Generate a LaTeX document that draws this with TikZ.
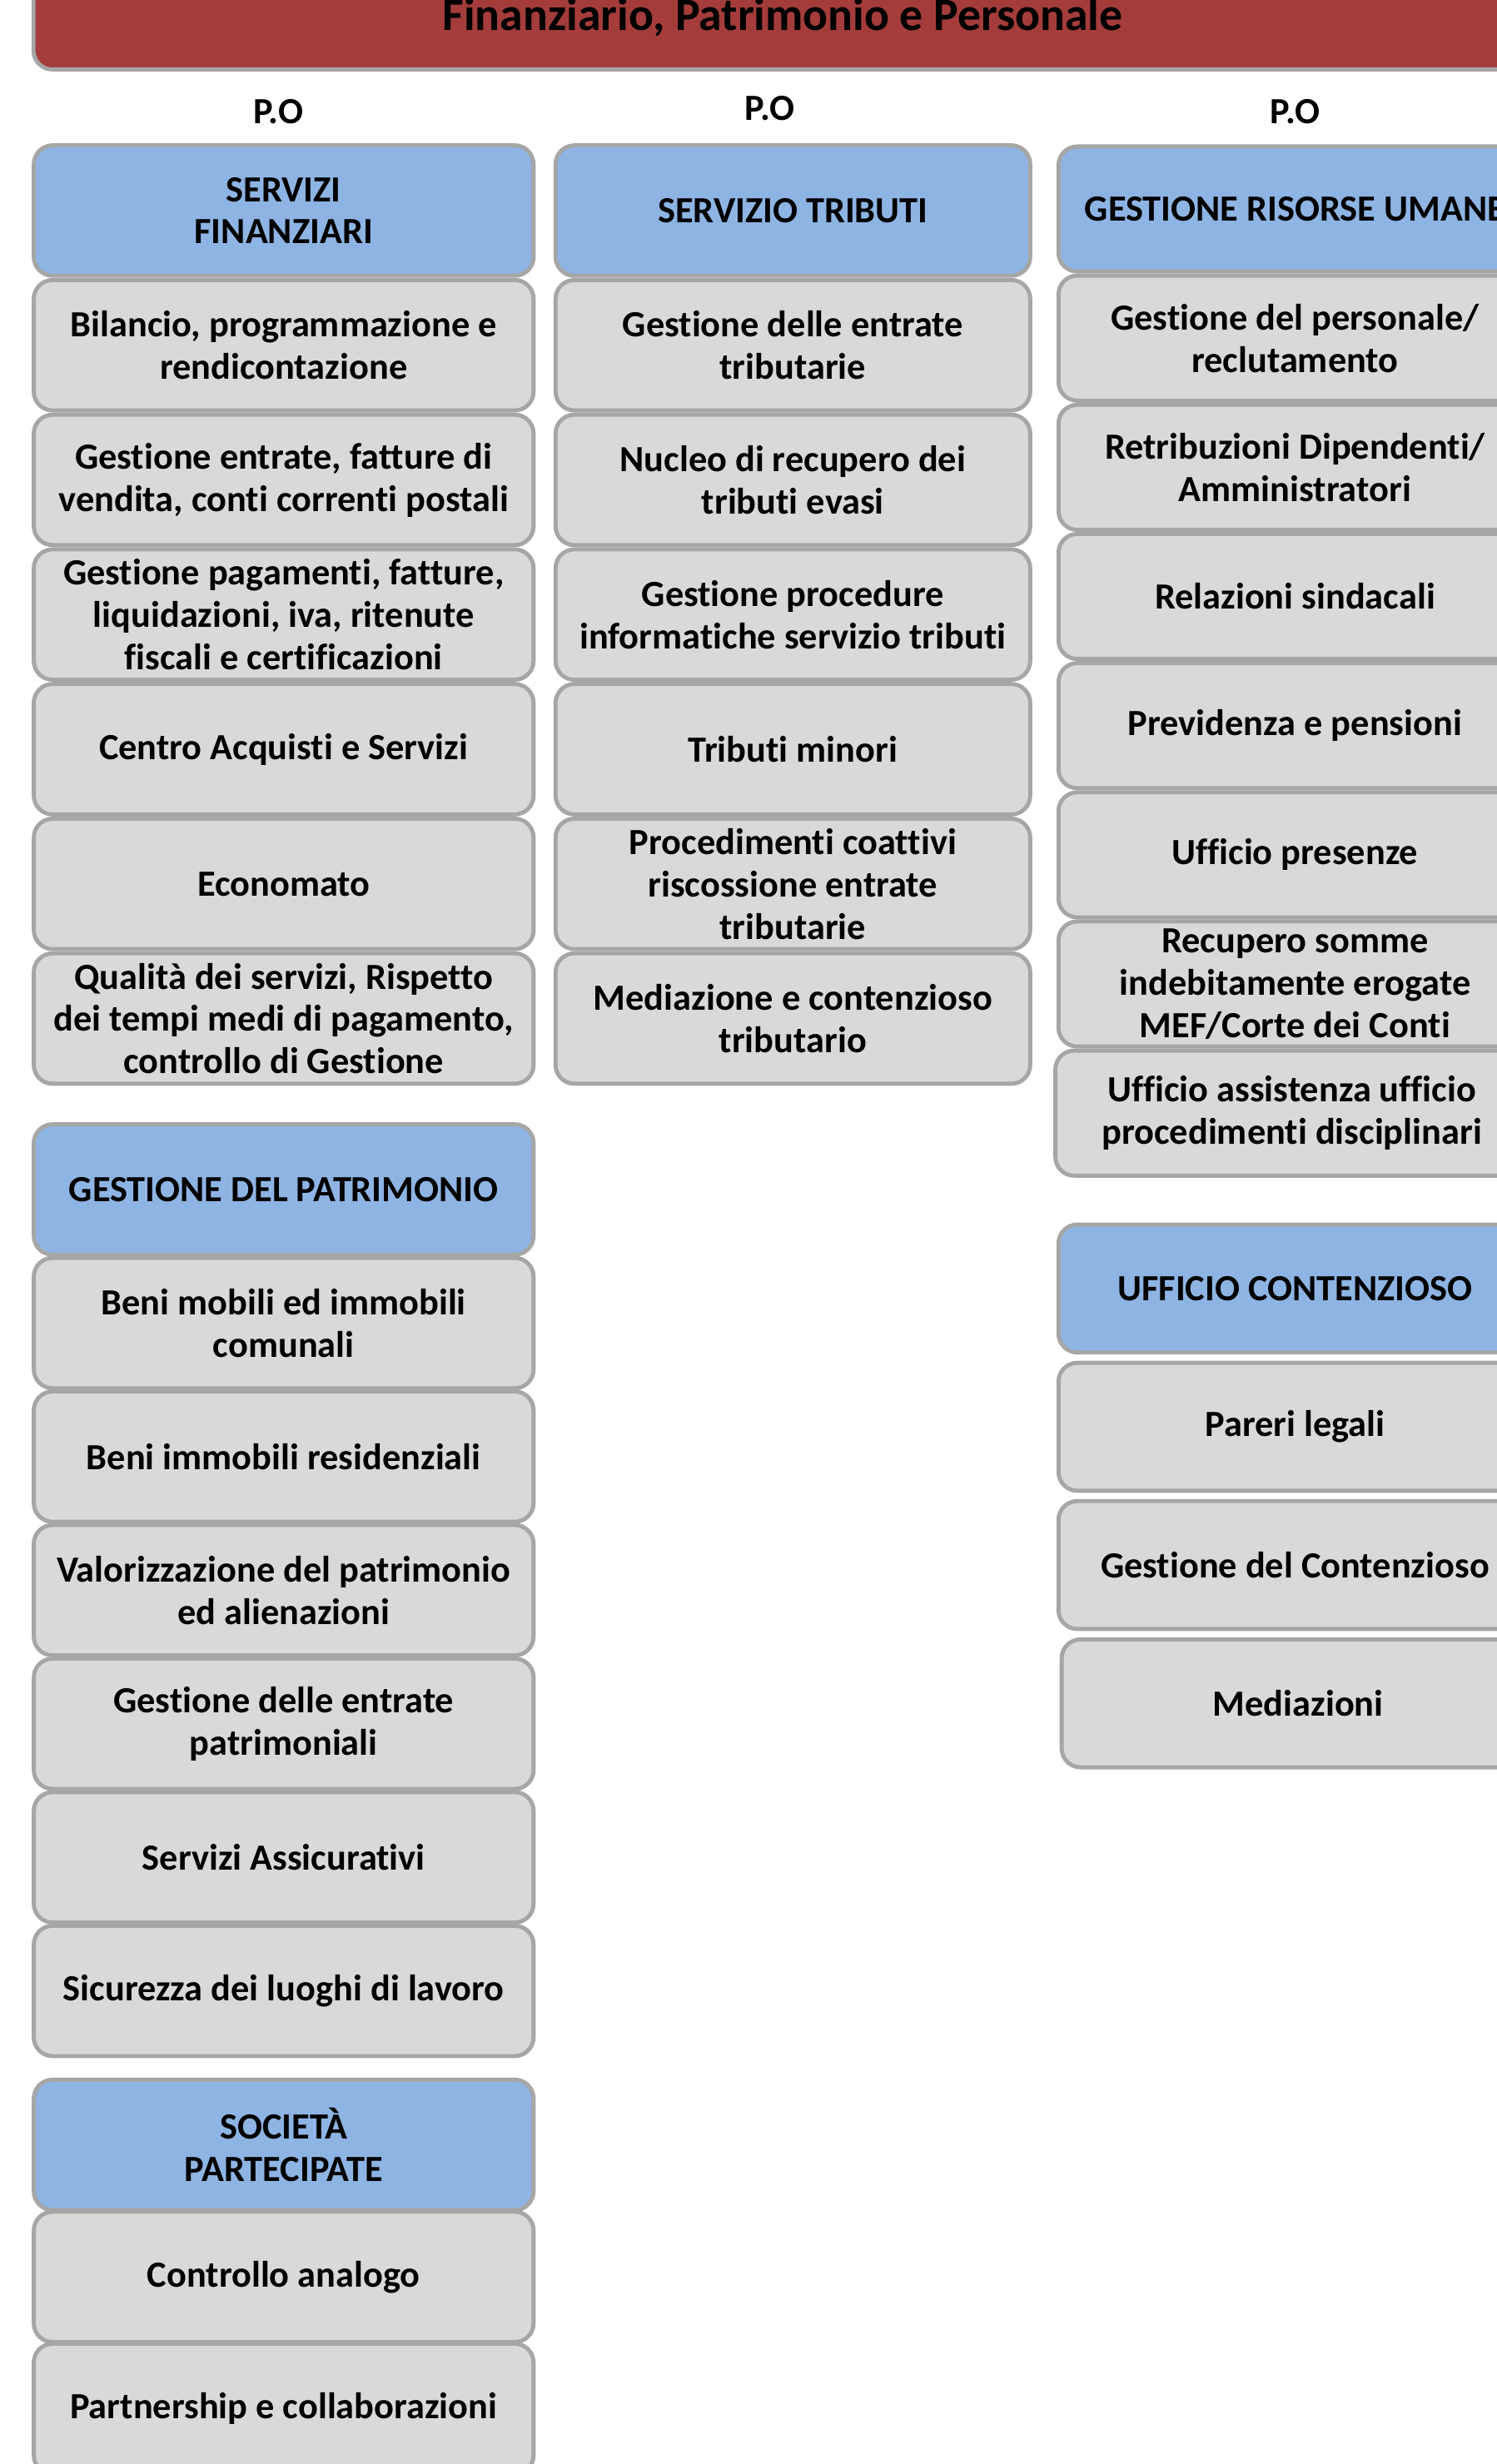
\documentclass[tikz,border=0pt]{standalone}
\usepackage{fontspec}
\setmainfont{Carlito}[Ligatures=NoCommon]
\usetikzlibrary{positioning}
\definecolor{bordo}{HTML}{A6A6A6}
\definecolor{grigio}{HTML}{D9D9D9}
\definecolor{azzurro}{HTML}{8EB4E3}
\definecolor{rosso}{HTML}{A33C3B}
\tikzset{%
	box/.style={draw=bordo, line width=2.6pt, rounded corners=12pt, align=center, inner sep=1pt, font=\fontsize{23.5}{27}\selectfont\bfseries},
	voce/.style={box, fill=grigio},
	ufficio/.style={box, fill=azzurro},
	colA/.style={minimum width=318pt, minimum height=83pt},
	colB/.style={minimum width=302pt, minimum height=83pt},
	colC/.style={minimum width=301pt, minimum height=79.6pt},
	po/.style={font=\fontsize{23.5}{27}\selectfont\bfseries}
}
\begin{document}
\begin{tikzpicture}[x=1pt, y=-1pt]
		\useasboundingbox (0,0) rectangle (952,1568.1);
		% settore
		\node[box, fill=rosso, minimum width=953.4pt, minimum height=66.4pt, font=\fontsize{29.5}{34}\selectfont\bfseries] (settore) at (498,11) {Finanziario, Patrimonio e Personale};
		\node[po] (poA) at (177,71) {P.O};
		\node[po] (poB) at (490,69) {P.O};
		\node[po] (poC) at (824,71) {P.O};
		
		% servizi finanziari
		\node[ufficio, colA] (fin) at (180.5,134) {SERVIZI\\FINANZIARI};
		\begin{scope}[node distance=85.7pt]
		\node[voce, colA] (fin1) [below of=fin] {Bilancio, programmazione e\\rendicontazione};
		\node[voce, colA] (fin2) [below of=fin1] {Gestione entrate, fatture di\\vendita, conti correnti postali};
		\node[voce, colA] (fin3) [below of=fin2] {Gestione pagamenti, fatture,\\liquidazioni, iva, ritenute\\fiscali e certificazioni};
		\node[voce, colA] (fin4) [below of=fin3] {Centro Acquisti e Servizi};
		\node[voce, colA] (fin5) [below of=fin4] {Economato};
		\node[voce, colA] (fin6) [below of=fin5] {Qualità dei servizi, Rispetto\\dei tempi medi di pagamento,\\controllo di Gestione};
		\end{scope}
		
		% patrimonio
		\node[ufficio, colA] (pat) at (180.5,757) {GESTIONE DEL PATRIMONIO};
		\begin{scope}[node distance=85pt]
		\node[voce, colA] (pat1) [below of=pat] {Beni mobili ed immobili\\comunali};
		\node[voce, colA] (pat2) [below of=pat1] {Beni immobili residenziali};
		\node[voce, colA] (pat3) [below of=pat2] {Valorizzazione del patrimonio\\ed alienazioni};
		\node[voce, colA] (pat4) [below of=pat3] {Gestione delle entrate\\patrimoniali};
		\node[voce, colA] (pat5) [below of=pat4] {Servizi Assicurativi};
		\node[voce, colA] (pat6) [below of=pat5] {Sicurezza dei luoghi di lavoro};
		\end{scope}
		
		% societa
		\node[ufficio, colA] (soc) at (180.5,1365) {SOCIETÀ\\PARTECIPATE};
		\begin{scope}[node distance=84pt]
		\node[voce, colA] (soc1) [below of=soc] {Controllo analogo};
		\node[voce, colA] (soc2) [below of=soc1] {Partnership e collaborazioni};
		\end{scope}
		
		% tributi
		\node[ufficio, colB] (tri) at (504.5,134) {SERVIZIO TRIBUTI};
		\begin{scope}[node distance=85.7pt]
		\node[voce, colB] (tri1) [below of=tri] {Gestione delle entrate\\tributarie};
		\node[voce, colB] (tri2) [below of=tri1] {Nucleo di recupero dei\\tributi evasi};
		\node[voce, colB] (tri3) [below of=tri2] {Gestione procedure\\informatiche servizio tributi};
		\node[voce, colB] (tri4) [below of=tri3] {Tributi minori};
		\node[voce, colB] (tri5) [below of=tri4] {Procedimenti coattivi\\riscossione entrate\\tributarie};
		\node[voce, colB] (tri6) [below of=tri5] {Mediazione e contenzioso\\tributario};
		\end{scope}
		
		% risorse umane
		\node[ufficio, colC] (ru) at (824,133) {GESTIONE RISORSE UMANE};
		\begin{scope}[node distance=82.2pt]
		\node[voce, colC] (ru1) [below of=ru] {Gestione del personale/\\reclutamento};
		\node[voce, colC] (ru2) [below of=ru1] {Retribuzioni Dipendenti/\\Amministratori};
		\node[voce, colC] (ru3) [below of=ru2] {Relazioni sindacali};
		\node[voce, colC] (ru4) [below of=ru3] {Previdenza e pensioni};
		\node[voce, colC] (ru5) [below of=ru4] {Ufficio presenze};
		\node[voce, colC] (ru6) [below of=ru5] {Recupero somme\\indebitamente erogate\\MEF/Corte dei Conti};
		\node[voce, colC, xshift=-2pt] (ru7) [below of=ru6] {Ufficio assistenza ufficio\\procedimenti disciplinari};
		\end{scope}
		
		% contenzioso
		\node[ufficio, colC, minimum height=81.4pt] (con) at (824,820) {UFFICIO CONTENZIOSO};
		\begin{scope}[node distance=88pt]
		\node[voce, colC, minimum height=81.4pt] (con1) [below of=con] {Pareri legali};
		\node[voce, colC, minimum height=81.4pt] (con2) [below of=con1] {Gestione del Contenzioso};
		\node[voce, colC, minimum height=81.4pt, xshift=2pt] (con3) [below of=con2] {Mediazioni};
		\end{scope}
	\end{tikzpicture}
\end{document}
